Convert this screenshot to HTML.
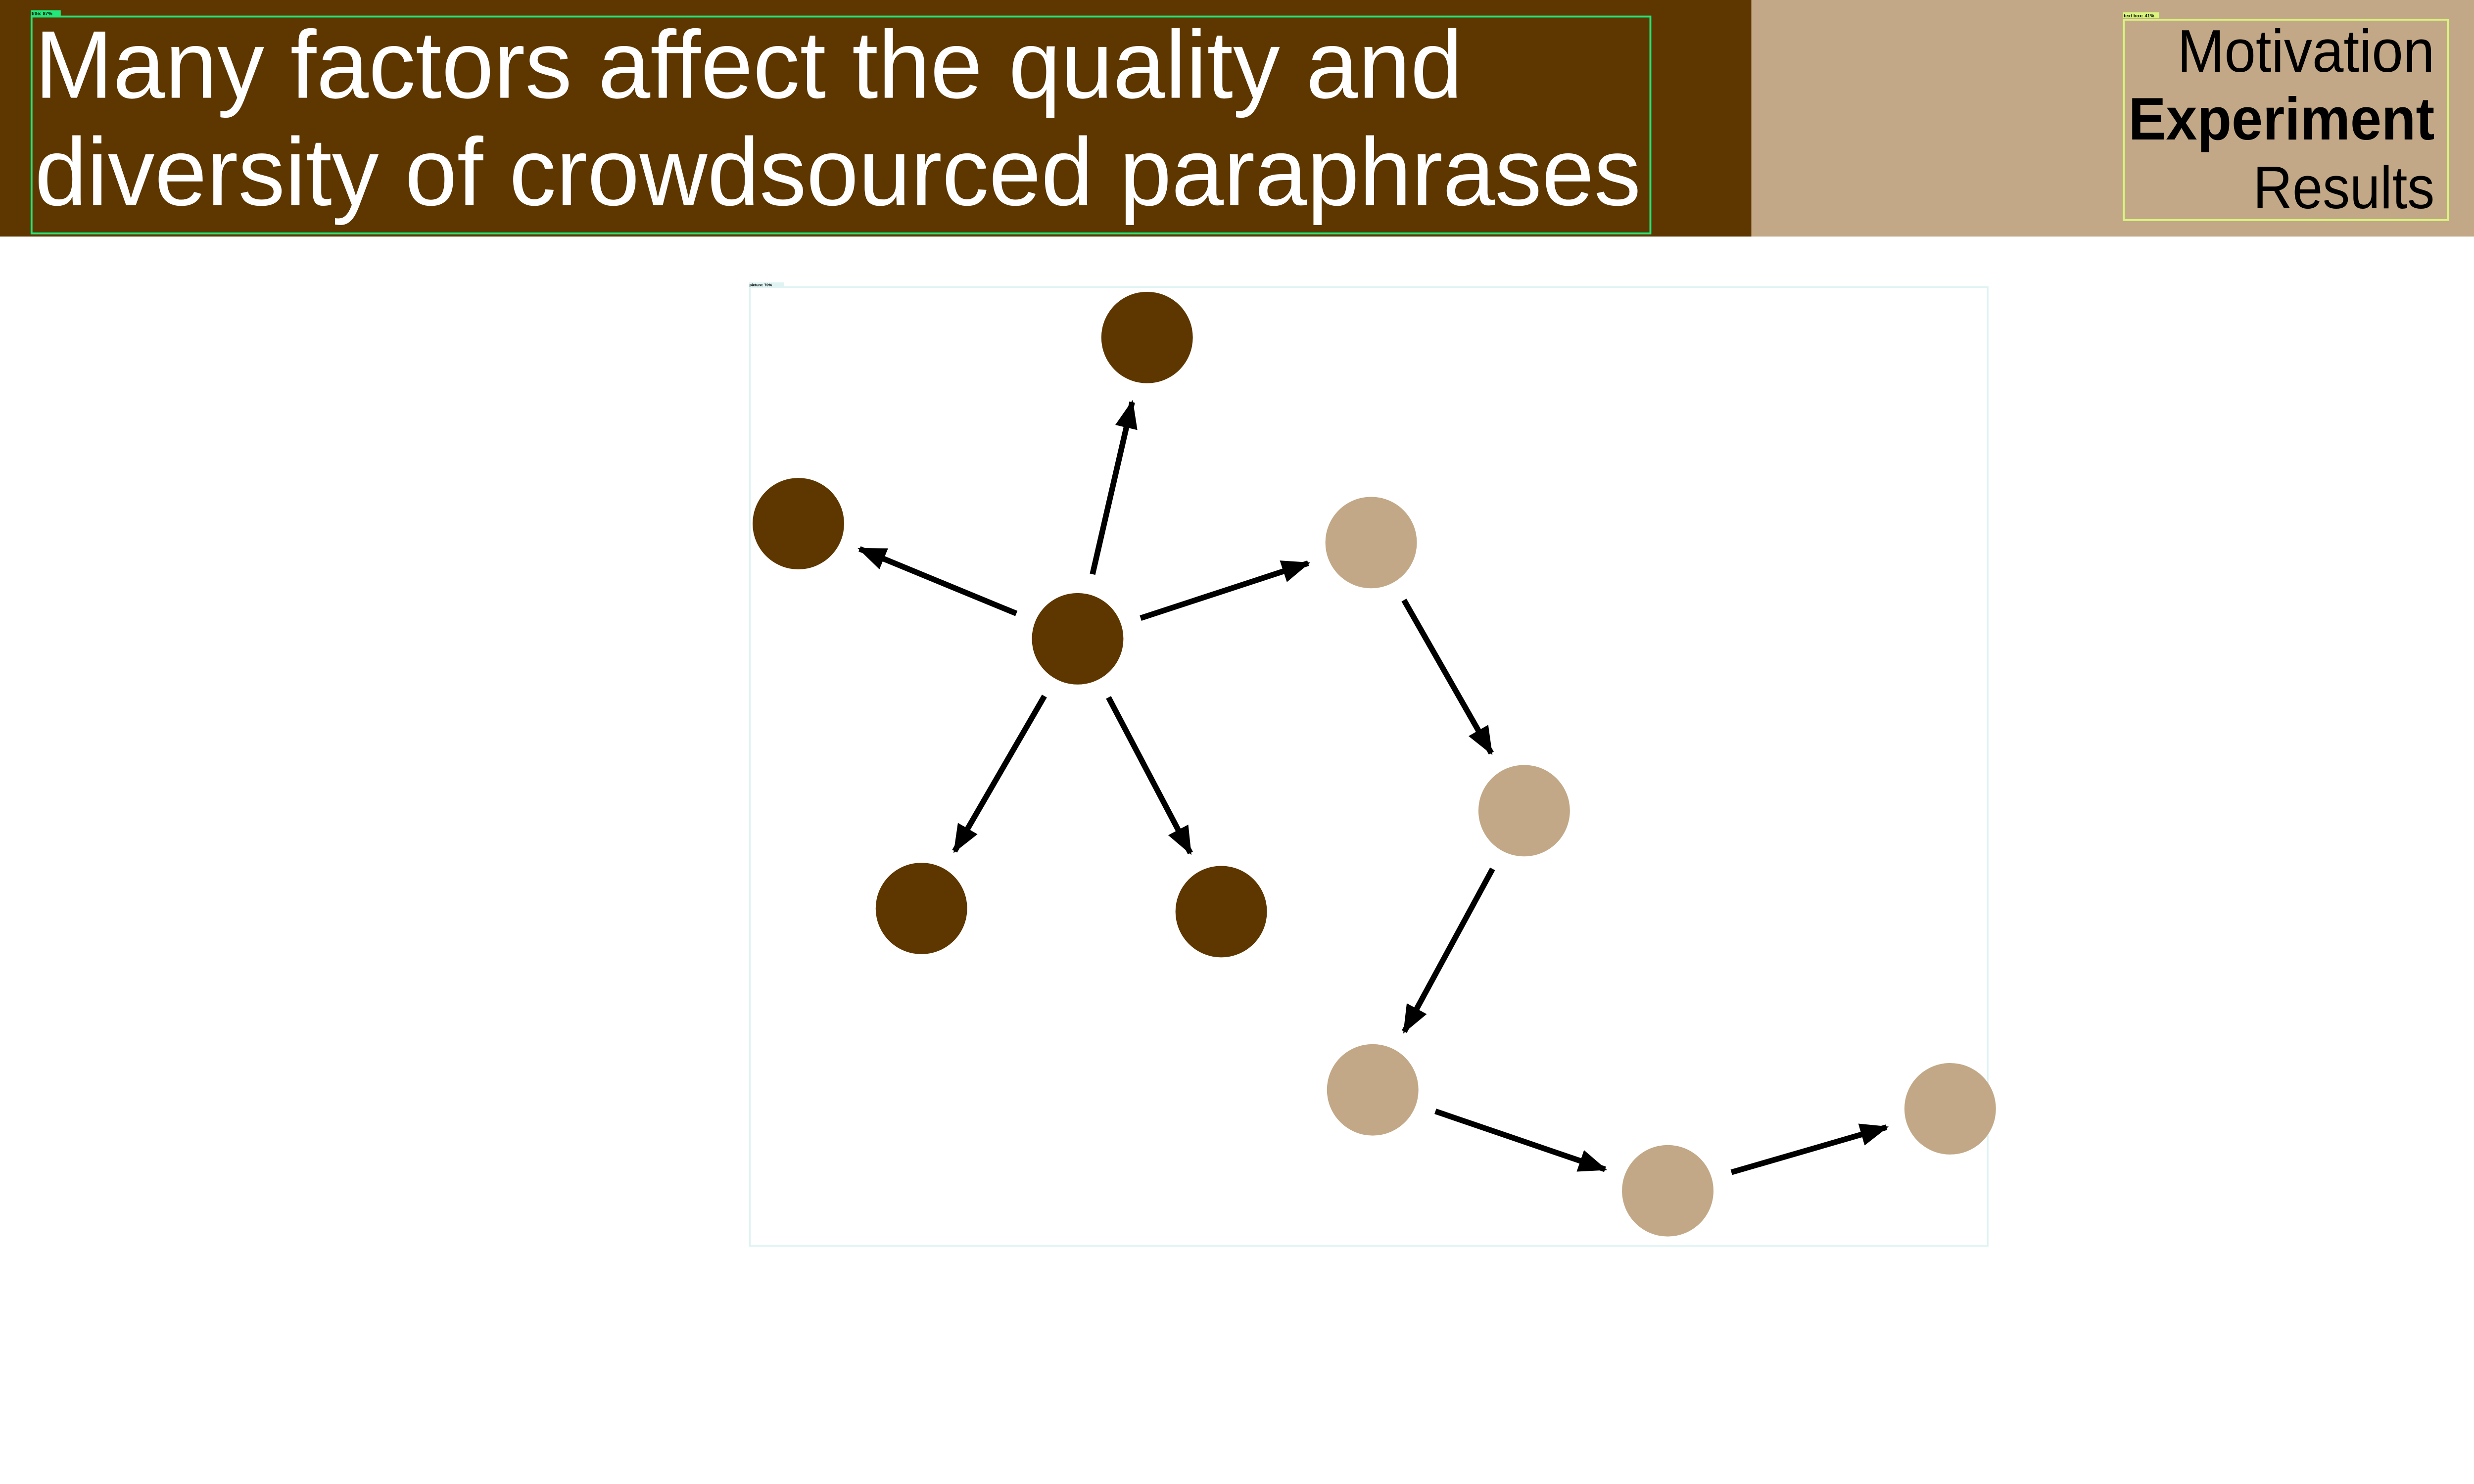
<!DOCTYPE html>
<html><head><meta charset="utf-8"><style>
html,body{margin:0;padding:0;background:#fff;overflow:hidden}
svg{display:block;width:100vw;height:56.243vw}
text{font-family:"Liberation Sans",sans-serif}
</style></head><body>
<svg viewBox="0 0 1568 882" preserveAspectRatio="none" xmlns="http://www.w3.org/2000/svg">
<defs>
<marker id="ah" markerWidth="5" markerHeight="4" refX="4.6" refY="2" orient="auto" markerUnits="strokeWidth"><path d="M0,0 L5,2 L0,4 Z" fill="#000"/></marker>
</defs>
<rect x="0" y="0" width="1110" height="150" fill="#5e3700"/>
<rect x="1110" y="0" width="458" height="150" fill="#c2a886"/>
<rect x="20" y="10.5" width="1026" height="137.5" fill="none" stroke="#22e87a" stroke-width="1.2"/>
<rect x="19.5" y="6.5" width="19" height="3.5" fill="#22e87a"/>
<text x="20" y="9.6" font-size="3" font-weight="bold" fill="#000">title: 87%</text>
<text x="22" y="62" font-size="61" fill="#fff" textLength="905" lengthAdjust="spacingAndGlyphs">Many factors affect the quality and</text>
<text x="22" y="130" font-size="61" fill="#fff" textLength="1018" lengthAdjust="spacingAndGlyphs">diversity of crowdsourced paraphrases</text>
<rect x="1346" y="12.5" width="205.5" height="127" fill="none" stroke="#d9f57f" stroke-width="1.2"/>
<rect x="1345.5" y="7.8" width="23" height="3.8" fill="#d9f57f"/>
<text x="1346" y="11" font-size="3" font-weight="bold" fill="#000">text box: 41%</text>
<text x="1380" y="45.5" font-size="38" fill="#000" textLength="163" lengthAdjust="spacingAndGlyphs">Motivation</text>
<text x="1349" y="88.5" font-size="38" font-weight="bold" fill="#000" textLength="194" lengthAdjust="spacingAndGlyphs">Experiment</text>
<text x="1428" y="132" font-size="38" fill="#000" textLength="115" lengthAdjust="spacingAndGlyphs">Results</text>
<rect x="475.3" y="182" width="784.5" height="608" fill="none" stroke="#dff3f3" stroke-width="1"/>
<rect x="474.8" y="179" width="22" height="2.5" fill="#dff3f3"/>
<text x="475" y="181.4" font-size="2.4" font-weight="bold" fill="#000">picture: 70%</text>
<g id="graph"></g>
</svg>
<script>
const nodeX=[683,727,506,584,774,869,966,870,1057,1236];
const nodeY=[405,214,332,576,578,344,514,691,755,703];
const nodeGroup=['dark','dark','dark','dark','dark','tan','tan','tan','tan','tan'];
const edgeFrom=[0,0,0,0,0,5,6,7,8];
const edgeTo=[1,2,5,3,4,6,7,8,9];
const NS='http://www.w3.org/2000/svg';
const g=document.getElementById('graph');
const R=29,GAP=42;
for(let i=0;i<edgeFrom.length;i++){
  const a=edgeFrom[i],b=edgeTo[i];
  const dx=nodeX[b]-nodeX[a],dy=nodeY[b]-nodeY[a],d=Math.hypot(dx,dy);
  const ux=dx/d,uy=dy/d;
  const l=document.createElementNS(NS,'line');
  l.setAttribute('x1',nodeX[a]+ux*GAP);l.setAttribute('y1',nodeY[a]+uy*GAP);
  l.setAttribute('x2',nodeX[b]-ux*GAP);l.setAttribute('y2',nodeY[b]-uy*GAP);
  l.setAttribute('stroke','#000');l.setAttribute('stroke-width','3.6');
  l.setAttribute('marker-end','url(#ah)');
  
  
  g.appendChild(l);
}
for(let i=0;i<nodeX.length;i++){
  const c=document.createElementNS(NS,'circle');
  c.setAttribute('cx',nodeX[i]);c.setAttribute('cy',nodeY[i]);c.setAttribute('r',R);
  c.setAttribute('fill',nodeGroup[i]==='dark'?'#5e3700':'#c2a886');
  
  
  g.appendChild(c);
}
</script>
</body></html>
